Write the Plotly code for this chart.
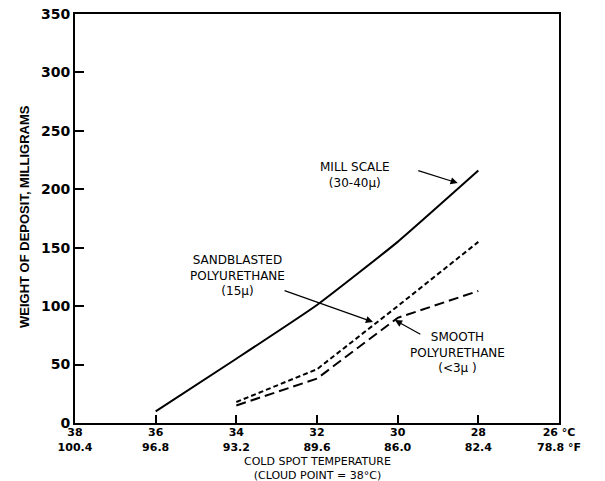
import plotly.graph_objects as go

# Data (cold spot temperature in °C, weight of deposit in mg)
mill_temp = [36, 34, 32, 30, 28]
mill_weight = [10, 55, 101, 155, 216]

sand_temp = [34, 32, 30, 28]
sand_weight = [18, 46, 100, 155]

smooth_temp = [34, 32, 30, 28]
smooth_weight = [15, 38, 90, 113]

x_tickvals = [38, 36, 34, 32, 30, 28, 26]
x_ticktext = ["38<br>100.4", "36<br>96.8", "34<br>93.2", "32<br>89.6",
              "30<br>86.0", "28<br>82.4", "26 °C<br>78.8 °F"]
y_tickvals = [0, 50, 100, 150, 200, 250, 300, 350]

FONT = "DejaVu Sans"

fig = go.Figure()
fig.add_trace(go.Scatter(x=mill_temp, y=mill_weight, mode="lines",
                         line=dict(color="black", width=2, shape="spline", smoothing=0.4),
                         name="Mill scale"))
fig.add_trace(go.Scatter(x=sand_temp, y=sand_weight, mode="lines",
                         line=dict(color="black", width=2, dash="5px,3px"),
                         name="Sandblasted polyurethane"))
fig.add_trace(go.Scatter(x=smooth_temp, y=smooth_weight, mode="lines",
                         line=dict(color="black", width=2, dash="10px,5px"),
                         name="Smooth polyurethane"))

txt = dict(family=FONT, size=12, color="black")

def label(text, x, y):
    fig.add_annotation(x=x, y=y, xref="x", yref="y", text=text, showarrow=False,
                       font=txt, xanchor="center", yanchor="middle", align="center")

def arrow(x, y, ax, ay):
    fig.add_annotation(x=x, y=y, xref="x", yref="y", text="", showarrow=True,
                       ax=ax, ay=ay, arrowhead=2, arrowsize=1.2, arrowwidth=1.2,
                       arrowcolor="black", standoff=0)

label("MILL SCALE<br>(30-40μ)", 31.05, 212.0)
arrow(28.51, 205.3, -41, -13)

label("SANDBLASTED<br>POLYURETHANE<br>(15μ)", 33.97, 126.6)
arrow(30.61, 86.4, -90, -32)

label("SMOOTH<br>POLYURETHANE<br>(<3μ )", 28.52, 60.7)
arrow(30.07, 88.1, 27, 15)

# axis titles
fig.add_annotation(xref="paper", yref="paper", x=0.5, y=-0.0345, yanchor="top",
                   text="COLD SPOT TEMPERATURE<br>(CLOUD POINT = 38°C)", showarrow=False,
                   font=dict(family=FONT, size=11, color="black"), borderpad=0,
                   xanchor="center", align="center", yshift=-17)
fig.add_annotation(xref="paper", yref="paper", x=-0.103, y=0.504,
                   text="WEIGHT OF DEPOSIT, MILLIGRAMS", showarrow=False,
                   textangle=-90,
                   font=dict(family="Liberation Sans Narrow, Liberation Sans", size=13,
                             color="black", weight="bold"),
                   xanchor="center", yanchor="middle")

fig.update_xaxes(range=[38, 26], tickvals=x_tickvals, ticktext=x_ticktext,
                 ticks="inside", ticklen=8, tickwidth=1.5, tickcolor="black",
                 showline=True, linecolor="black", linewidth=2, mirror=True,
                 showgrid=False, zeroline=False, automargin=False,
                 ticklabelstandoff=-2,
                 tickfont=dict(family=FONT, size=11, color="black", weight="bold"))
fig.update_yaxes(range=[0, 350], tickvals=y_tickvals,
                 ticks="inside", ticklen=9, tickwidth=1.5, tickcolor="black",
                 showline=True, linecolor="black", linewidth=2, mirror=True,
                 showgrid=False, zeroline=False, automargin=False,
                 tickfont=dict(family=FONT, size=14, color="black", weight="bold"))

fig.update_layout(width=605, height=481, showlegend=False,
                  paper_bgcolor="white", plot_bgcolor="white",
                  margin=dict(l=75, r=46, t=14, b=58, autoexpand=False))

fig.write_html("out.html", config={"displayModeBar": False},
               post_script="document.body.style.margin='0';document.body.style.overflow='hidden';")
